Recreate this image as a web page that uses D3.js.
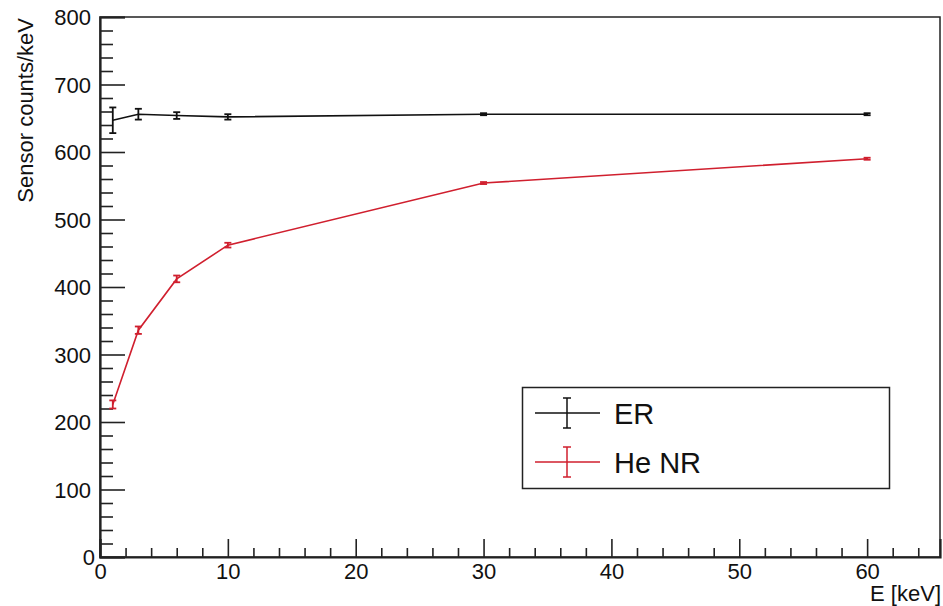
<!DOCTYPE html>
<html>
<head>
<meta charset="utf-8">
<script src="https://cdn.jsdelivr.net/npm/d3@7"></script>
<style>
  html, body { margin: 0; padding: 0; background: #fff; }
  svg { display: block; font-family: "Liberation Sans", Arial, Helvetica, sans-serif; }
</style>
</head>
<body>
<svg id="chart" width="943" height="606"></svg>
<script>
// Energy points (keV)
const energies = [1, 3, 6, 10, 30, 60];
// Electron recoil response and its uncertainty
const erValues = [647, 656, 654, 652, 656, 656];
const erErrors = [19, 8, 5, 4, 1.5, 1.5];
// Helium nuclear recoil response and its uncertainty
const nrValues = [226, 336, 412, 462, 554, 590];
const nrErrors = [6, 5.5, 5, 3.5, 1.5, 1.5];
// Axis tick labels
const xTicks = [0, 10, 20, 30, 40, 50, 60];
const yTicks = [0, 100, 200, 300, 400, 500, 600, 700, 800];
const legendLabels = ["ER", "He NR"];

const colors = { er: "#111111", nr: "#d01f2e" };

const svg = d3.select("#chart");
const frame = { left: 100, top: 17, right: 940, bottom: 557 };

const x = d3.scaleLinear().domain([0, 65.7]).range([frame.left, frame.right]);
const y = d3.scaleLinear().domain([0, 800]).range([frame.bottom, frame.top]);

// Frame box
svg.append("rect")
  .attr("x", frame.left).attr("y", frame.top)
  .attr("width", frame.right - frame.left).attr("height", frame.bottom - frame.top)
  .attr("fill", "none").attr("stroke", "#222").attr("stroke-width", 1.5);

// X axis: minor ticks then major ticks, pointing into the frame
const xMinor = d3.range(0, 65.7, 2).filter(v => v % 10 !== 0);
svg.append("g")
  .attr("transform", `translate(0,${frame.bottom})`)
  .call(d3.axisBottom(x).tickValues(xMinor).tickSize(-9).tickFormat(""))
  .call(g => g.select(".domain").remove())
  .call(g => g.selectAll("line").attr("stroke", "#222").attr("stroke-width", 1.6));

const gx = svg.append("g")
  .attr("transform", `translate(0,${frame.bottom})`)
  .call(d3.axisBottom(x).tickValues(xTicks).tickSize(-18).tickPadding(0).tickFormat(d3.format("d")));
gx.select(".domain").attr("stroke", "#222").attr("stroke-width", 2.2);
gx.selectAll("line").attr("stroke", "#222").attr("stroke-width", 1.6);
gx.selectAll("text")
  .attr("font-size", 22).attr("fill", "#111")
  .attr("y", 22).attr("dy", 0).attr("font-family", "Liberation Sans, Arial, sans-serif");

// Y axis: minor ticks then major ticks
const yMinor = d3.range(0, 801, 20).filter(v => v % 100 !== 0);
svg.append("g")
  .attr("transform", `translate(${frame.left},0)`)
  .call(d3.axisLeft(y).tickValues(yMinor).tickSize(-13).tickFormat(""))
  .call(g => g.select(".domain").remove())
  .call(g => g.selectAll("line").attr("stroke", "#222").attr("stroke-width", 1.6));

const gy = svg.append("g")
  .attr("transform", `translate(${frame.left},0)`)
  .call(d3.axisLeft(y).tickValues(yTicks).tickSize(-25).tickFormat(d3.format("d")));
gy.select(".domain").attr("stroke", "#222").attr("stroke-width", 2.2);
gy.selectAll("line").attr("stroke", "#222").attr("stroke-width", 1.6);
gy.selectAll("text")
  .attr("font-size", 22).attr("fill", "#111")
  .attr("x", -9).attr("dy", "0.36em").attr("font-family", "Liberation Sans, Arial, sans-serif");
// The zero label sits a little closer to the corner
gy.selectAll(".tick").filter(d => d === 0).select("text").attr("x", -5);

// Axis titles
svg.append("text")
  .attr("x", frame.right + 1).attr("y", 601)
  .attr("text-anchor", "end").attr("font-size", 22).attr("fill", "#111")
  .text("E [keV]");
svg.append("text")
  .attr("transform", `translate(33,${frame.top + 1}) rotate(-90)`)
  .attr("text-anchor", "end").attr("font-size", 22).attr("fill", "#111")
  .text("Sensor counts/keV");

// Data series with vertical error bars
function drawSeries(values, errors, color) {
  const pts = energies.map((e, i) => ({ e, v: values[i], err: errors[i] }));
  const g = svg.append("g");
  g.append("path")
    .datum(pts)
    .attr("fill", "none").attr("stroke", color).attr("stroke-width", 1.6)
    .attr("d", d3.line().x(d => x(d.e)).y(d => y(d.v)));
  const cap = 3.5;
  const eb = g.selectAll("g.err").data(pts).join("g").attr("class", "err");
  eb.append("line")
    .attr("x1", d => x(d.e)).attr("x2", d => x(d.e))
    .attr("y1", d => y(d.v + d.err)).attr("y2", d => y(d.v - d.err))
    .attr("stroke", color).attr("stroke-width", 1.8);
  eb.append("line")
    .attr("x1", d => x(d.e) - cap).attr("x2", d => x(d.e) + cap)
    .attr("y1", d => y(d.v + d.err)).attr("y2", d => y(d.v + d.err))
    .attr("stroke", color).attr("stroke-width", 1.8);
  eb.append("line")
    .attr("x1", d => x(d.e) - cap).attr("x2", d => x(d.e) + cap)
    .attr("y1", d => y(d.v - d.err)).attr("y2", d => y(d.v - d.err))
    .attr("stroke", color).attr("stroke-width", 1.8);
}
drawSeries(erValues, erErrors, colors.er);
drawSeries(nrValues, nrErrors, colors.nr);

// Legend
const legend = svg.append("g");
legend.append("rect")
  .attr("x", 522.5).attr("y", 387.5).attr("width", 367).attr("height", 101)
  .attr("fill", "#fff").attr("stroke", "#222").attr("stroke-width", 1.5);
const legendColors = [colors.er, colors.nr];
legendLabels.forEach((label, i) => {
  const cy = 413 + i * 49;
  const col = legendColors[i];
  legend.append("line").attr("x1", 535).attr("x2", 600).attr("y1", cy).attr("y2", cy)
    .attr("stroke", col).attr("stroke-width", 1.5);
  legend.append("line").attr("x1", 567).attr("x2", 567).attr("y1", cy - 15).attr("y2", cy + 15)
    .attr("stroke", col).attr("stroke-width", 1.5);
  [cy - 15, cy + 15].forEach(yy => legend.append("line")
    .attr("x1", 563).attr("x2", 571).attr("y1", yy).attr("y2", yy)
    .attr("stroke", col).attr("stroke-width", 1.5));
  legend.append("text")
    .attr("x", 614).attr("y", cy + 11)
    .attr("font-size", 29).attr("fill", "#111")
    .text(label);
});
</script>
</body>
</html>
